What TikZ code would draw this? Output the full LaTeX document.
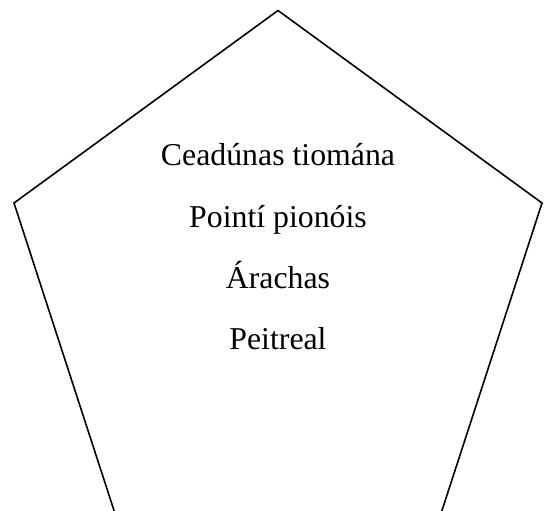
\documentclass[tikz,border=0pt]{standalone}
\usepackage{fontspec}
\setmainfont{Liberation Serif}
\begin{document}
\begin{tikzpicture}[x=1pt,y=-1pt,
  lbl/.style={font=\fontsize{31.8}{38}\selectfont, inner sep=0pt, anchor=base}]
\useasboundingbox (0,0) rectangle (547,511);
\clip (0,0) rectangle (547,511);
\coordinate (t) at (278,10.5);
\coordinate (r) at (542,203);
\coordinate (br) at (441,513.5);
\coordinate (bl) at (115,513.5);
\coordinate (l) at (14,203);
\draw[line width=1.6pt, line join=miter] (t) -- (r) -- (br) -- (bl) -- (l) -- cycle;
\node[lbl] (a) at (278,165) {Ceadúnas tiomána};
\node[lbl] (b) at (278,227) {Pointí pionóis};
\node[lbl] (c) at (278,288) {Árachas};
\node[lbl] (d) at (278,349) {Peitreal};
\end{tikzpicture}
\end{document}
